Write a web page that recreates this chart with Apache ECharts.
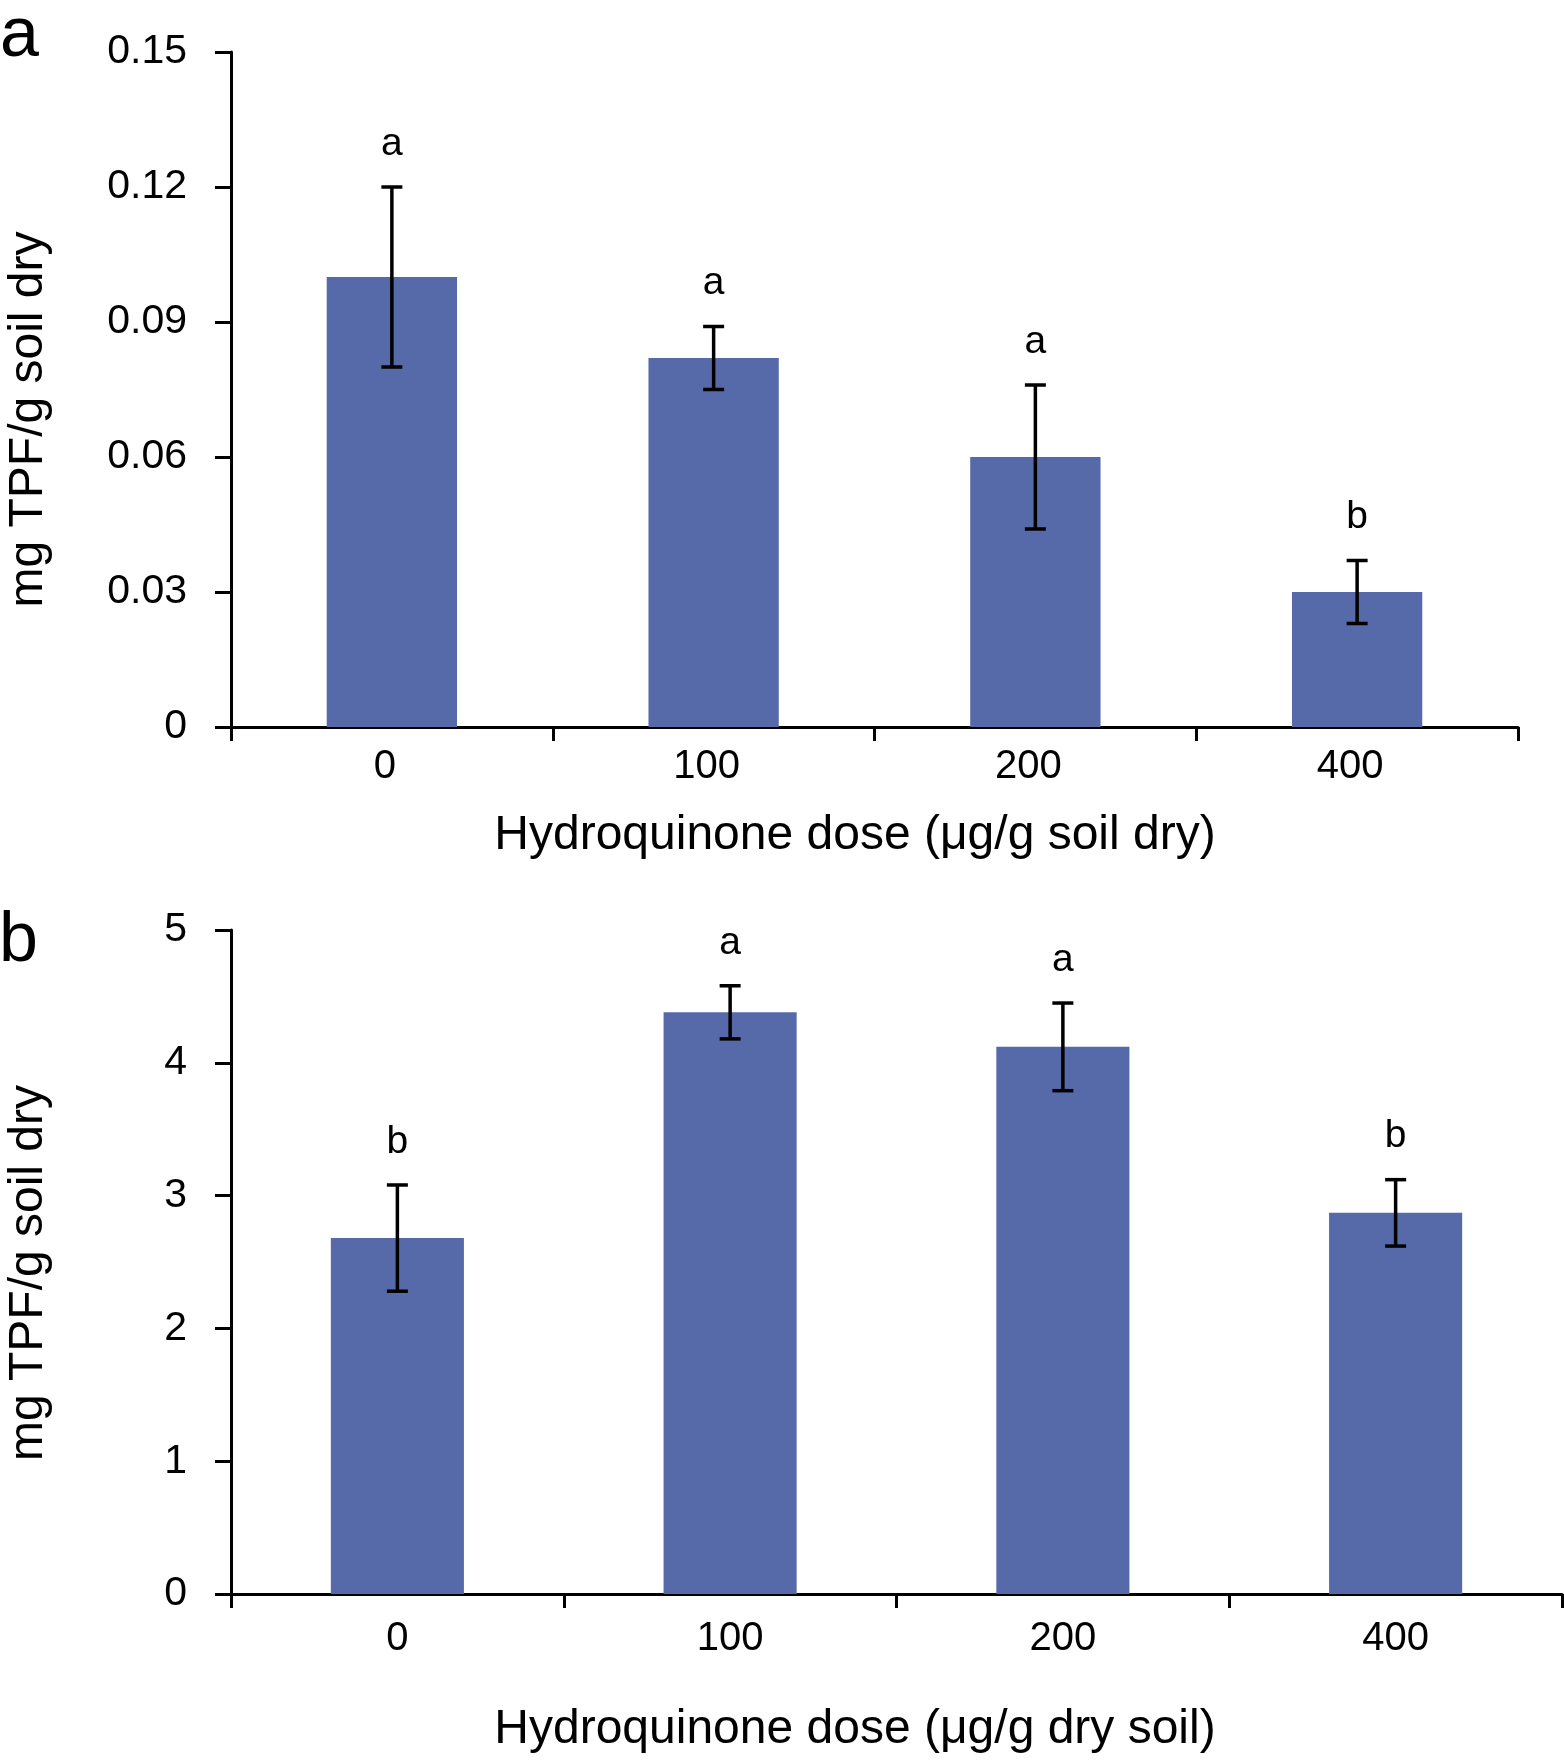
<!DOCTYPE html>
<html>
<head>
<meta charset="utf-8">
<script src="https://cdn.jsdelivr.net/npm/echarts@6/dist/echarts.min.js"></script>
<style>
html,body{margin:0;padding:0;background:#fff;}
#chart{width:1564px;height:1761px;}
</style>
</head>
<body>
<div id="chart"></div>
<script>
// ---- data ----
const categories = ['0', '100', '200', '400'];

const meanA = [0.100, 0.082, 0.060, 0.030];
const errA = [0.020, 0.007, 0.016, 0.007];
const lettersA = ['a', 'a', 'a', 'b'];
const yTicksA = [0, 0.03, 0.06, 0.09, 0.12, 0.15];

const meanB = [2.68, 4.38, 4.12, 2.87];
const errB = [0.40, 0.20, 0.33, 0.25];
const lettersB = ['b', 'a', 'a', 'b'];
const yTicksB = [0, 1, 2, 3, 4, 5];

const yTitle = 'mg TPF/g soil dry';
const xTitleA = 'Hydroquinone dose (\u03bcg/g soil dry)';
const xTitleB = 'Hydroquinone dose (\u03bcg/g dry soil)';

// ---- styles ----
const FONT = '"Liberation Sans", Arial, Helvetica, sans-serif';
const BAR = '#566aa9';
const lineStyle = { color: '#000', width: 3 };

function xAxisCfg(gi, margin, pad) {
  return {
    type: 'category', gridIndex: gi, data: categories,
    boundaryGap: true,
    axisLine: { show: true, lineStyle: lineStyle },
    axisTick: { show: true, inside: false, length: 14, alignWithLabel: false, lineStyle: lineStyle },
    axisLabel: { color: '#000', fontSize: 40, fontFamily: FONT, margin: margin, padding: pad },
    splitLine: { show: false }
  };
}
function yAxisCfg(gi, ticks, fmt) {
  return {
    type: 'value', gridIndex: gi,
    min: ticks[0], max: ticks[ticks.length - 1], interval: ticks[1] - ticks[0],
    axisLine: { show: true, lineStyle: lineStyle },
    axisTick: { show: true, inside: false, length: 16, lineStyle: lineStyle },
    axisLabel: { color: '#000', fontSize: 41, fontFamily: FONT, margin: 44, formatter: fmt },
    splitLine: { show: false }
  };
}

function errRender(letters) {
  return function (params, api) {
    const i = api.value(0), m = api.value(1), e = api.value(2);
    const top = api.coord([i, m + e]);
    const bot = api.coord([i, m - e]);
    const x = top[0], cap = 10.5;
    const st = { stroke: '#000', lineWidth: 3.5, fill: null };
    return {
      type: 'group',
      children: [
        { type: 'line', shape: { x1: x, y1: top[1], x2: x, y2: bot[1] }, style: st },
        { type: 'line', shape: { x1: x - cap, y1: top[1], x2: x + cap, y2: top[1] }, style: st },
        { type: 'line', shape: { x1: x - cap, y1: bot[1], x2: x + cap, y2: bot[1] }, style: st },
        {
          type: 'text', x: x, y: top[1] - 43,
          style: {
            text: letters[params.dataIndex], fill: '#000',
            font: '39px ' + FONT,
            align: 'center', verticalAlign: 'middle',
            textAlign: 'center', textVerticalAlign: 'middle'
          }
        }
      ]
    };
  };
}

function txt(text, x, y, size, align, rot) {
  return {
    type: 'text', x: x, y: y, rotation: rot || 0,
    style: {
      text: text, fill: '#000', font: size + 'px ' + FONT,
      align: align, verticalAlign: 'middle',
      textAlign: align, textVerticalAlign: 'middle'
    }
  };
}

const chart = echarts.init(document.getElementById('chart'), null, { renderer: 'canvas' });
chart.setOption({
  backgroundColor: '#fff',
  animation: false,
  grid: [
    { left: 231, right: 46, top: 52, height: 675, containLabel: false },
    { left: 231, right: 2, top: 930, height: 664, containLabel: false }
  ],
  xAxis: [xAxisCfg(0, 20, [0, 14, 0, 0]), xAxisCfg(1, 25, [0, 0, 0, 0])],
  yAxis: [
    yAxisCfg(0, yTicksA, v => (v === 0 ? '0' : v.toFixed(2))),
    yAxisCfg(1, yTicksB, v => String(Math.round(v)))
  ],
  series: [
    { type: 'bar', xAxisIndex: 0, yAxisIndex: 0, data: meanA, barWidth: '40.5%', itemStyle: { color: BAR }, z: 1 },
    { type: 'bar', xAxisIndex: 1, yAxisIndex: 1, data: meanB, barWidth: '40%', itemStyle: { color: BAR }, z: 1 },
    {
      type: 'custom', xAxisIndex: 0, yAxisIndex: 0, z: 5, clip: false,
      data: meanA.map((m, i) => [i, m, errA[i]]),
      renderItem: errRender(lettersA)
    },
    {
      type: 'custom', xAxisIndex: 1, yAxisIndex: 1, z: 5, clip: false,
      data: meanB.map((m, i) => [i, m, errB[i]]),
      renderItem: errRender(lettersB)
    }
  ],
  graphic: [
    txt('a', 0, 37, 70, 'left'),
    txt('b', -1, 942, 70, 'left'),
    txt(yTitle, 28.4, 419.5, 48, 'center', Math.PI / 2),
    txt(yTitle, 28.4, 1273, 48, 'center', Math.PI / 2),
    txt(xTitleA, 855, 836, 48, 'center'),
    txt(xTitleB, 855, 1730, 48, 'center')
  ]
});
</script>
</body>
</html>
